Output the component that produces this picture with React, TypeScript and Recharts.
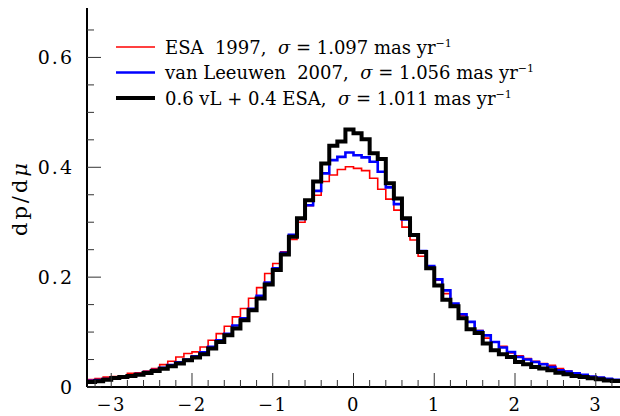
import { LineChart, Line, XAxis, YAxis, Label } from "recharts";

// proper-motion residual histograms, 0.1 mas/yr bins starting at -3.3
const BIN_START = -3.3;
const BIN_WIDTH = 0.1;

const esa1997 = [
  0.0134, 0.0153, 0.018, 0.019, 0.02, 0.025, 0.026, 0.029, 0.0336, 0.0408, 0.0468,
  0.0547, 0.061, 0.064, 0.0729, 0.0851, 0.0972, 0.1106, 0.1277, 0.143, 0.1616, 0.181,
  0.2066, 0.2248, 0.246, 0.2687, 0.3, 0.33, 0.349, 0.374, 0.386, 0.396, 0.401,
  0.398, 0.394, 0.38, 0.36, 0.342, 0.322, 0.291, 0.2675, 0.238, 0.22, 0.1945,
  0.17, 0.15, 0.13, 0.1185, 0.103, 0.089, 0.082, 0.074, 0.062, 0.057, 0.0517,
  0.047, 0.0426, 0.0395, 0.0335, 0.029, 0.026, 0.022, 0.019, 0.017, 0.015, 0.013,
];

const vanLeeuwen2007 = [
  0.0115, 0.0125, 0.0145, 0.017, 0.019, 0.021, 0.0235, 0.027, 0.031, 0.035, 0.04,
  0.045, 0.05, 0.056, 0.063, 0.073, 0.085, 0.097, 0.112, 0.125, 0.1425, 0.166,
  0.19, 0.216, 0.2445, 0.277, 0.306, 0.331, 0.357, 0.389, 0.413, 0.419, 0.427,
  0.422, 0.418, 0.41, 0.392, 0.3635, 0.333, 0.305, 0.278, 0.2474, 0.22, 0.196,
  0.176, 0.152, 0.1325, 0.1185, 0.102, 0.094, 0.082, 0.0718, 0.0638, 0.0547, 0.05,
  0.0456, 0.0414, 0.0365, 0.0304, 0.028, 0.025, 0.022, 0.019, 0.017, 0.015, 0.013,
];

const combined = [
  0.0091, 0.0103, 0.0134, 0.0164, 0.018, 0.02, 0.0225, 0.0255, 0.0292, 0.0334, 0.0377,
  0.0426, 0.0486, 0.0535, 0.0596, 0.0699, 0.082, 0.0942, 0.1064, 0.1216, 0.1398, 0.161,
  0.1867, 0.2128, 0.2414, 0.2735, 0.307, 0.34, 0.374, 0.407, 0.439, 0.447, 0.469,
  0.462, 0.451, 0.4255, 0.415, 0.371, 0.343, 0.307, 0.2766, 0.246, 0.216, 0.185,
  0.159, 0.147, 0.125, 0.105, 0.0985, 0.079, 0.0669, 0.0596, 0.0547, 0.0456, 0.0414,
  0.0365, 0.0335, 0.0304, 0.026, 0.023, 0.02, 0.018, 0.016, 0.014, 0.012, 0.011,
];

const xTicks = [
  -3.2, -3, -2.8, -2.6, -2.4, -2.2, -2, -1.8, -1.6, -1.4, -1.2, -1, -0.8, -0.6, -0.4, -0.2,
  0, 0.2, 0.4, 0.6, 0.8, 1, 1.2, 1.4, 1.6, 1.8, 2, 2.2, 2.4, 2.6, 2.8, 3, 3.2,
];
const yTicks = [0, 0.05, 0.1, 0.15, 0.2, 0.25, 0.3, 0.35, 0.4, 0.45, 0.5, 0.55, 0.6, 0.65];

const seriesNames = ["ESA  1997,", "van Leeuwen  2007,", "0.6 vL + 0.4 ESA,"];
const sigmas = ["1.097", "1.056", "1.011"];

const seriesStyle = [
  { key: "esa", color: "#ff0000", width: 1.6 },
  { key: "vl", color: "#0000ff", width: 2.6 },
  { key: "mix", color: "#000000", width: 4 },
];

// step lines need the closing edge, so the last bin value is repeated there
const rows = Array.from({ length: esa1997.length + 1 }, (_, i) => {
  const j = Math.min(i, esa1997.length - 1);
  return {
    x: Math.round((BIN_START + i * BIN_WIDTH) * 10) / 10,
    esa: esa1997[j],
    vl: vanLeeuwen2007[j],
    mix: combined[j],
  };
});

const FONT = "'DejaVu Serif', serif";
const TICK = "#333";

const isMultiple = (v: number, step: number) =>
  Math.abs(v / step - Math.round(v / step)) < 1e-6;
const fmt = (v: number) => (v < 0 ? "\u2212" + Math.abs(v) : String(v));

function BottomTick({ x, y, payload }: any) {
  const major = isMultiple(payload.value, 1);
  return (
    <g>
      <line x1={x} x2={x} y1={y} y2={y - (major ? 14 : 7)} stroke={TICK} />
      {major && (
        <text
          x={x}
          y={y + 24}
          textAnchor="middle"
          fontFamily={FONT}
          fontSize={18}
          letterSpacing={1.5}
          fill="#000"
        >
          {fmt(payload.value)}
        </text>
      )}
    </g>
  );
}

function TopTick({ x, y, payload }: any) {
  const major = isMultiple(payload.value, 1);
  return <line x1={x} x2={x} y1={y} y2={y + (major ? 14 : 7)} stroke={TICK} />;
}

function LeftTick({ x, y, payload }: any) {
  const major = isMultiple(payload.value, 0.2);
  return (
    <g>
      <line x1={x} x2={x + (major ? 14 : 7)} y1={y} y2={y} stroke={TICK} />
      {major && (
        <text
          x={x - 13}
          y={y + 7}
          textAnchor="end"
          fontFamily={FONT}
          fontSize={19}
          letterSpacing={2}
          fill="#000"
        >
          {payload.value === 0 ? "0" : payload.value.toFixed(1)}
        </text>
      )}
    </g>
  );
}

function RightTick({ x, y, payload }: any) {
  const major = isMultiple(payload.value, 0.2);
  return <line x1={x} x2={x - (major ? 14 : 7)} y1={y} y2={y} stroke={TICK} />;
}

function YTitle() {
  const cx = 27;
  const cy = 198;
  return (
    <text
      x={cx}
      y={cy}
      transform={`rotate(-90 ${cx} ${cy})`}
      textAnchor="middle"
      fontFamily={FONT}
      fontSize={21}
      letterSpacing={3}
      fill="#000"
    >
      dp/d<tspan fontStyle="italic">μ</tspan>
    </text>
  );
}

function LegendBox() {
  return (
    <svg
      width={620}
      height={120}
      style={{ position: "absolute", left: 0, top: 0, pointerEvents: "none" }}
    >
      {seriesNames.map((name, i) => {
        const y = 47 + i * 25.5;
        const s = seriesStyle[i];
        return (
          <g key={name}>
            <line x1={116} x2={155} y1={y} y2={y} stroke={s.color} strokeWidth={s.width} />
            <text
              x={165}
              y={y + 6.5}
              fontFamily={FONT}
              fontSize={18}
              fill="#000"
              style={{ whiteSpace: "pre" }}
            >
              {name + "  "}
              <tspan fontStyle="italic">σ</tspan>
              {" = " + sigmas[i] + " mas yr"}
              <tspan dy={-7} fontSize={11}>
                −1
              </tspan>
            </text>
          </g>
        );
      })}
    </svg>
  );
}

export default function App() {
  return (
    <div style={{ position: "absolute", left: 0, top: 0, width: 620, height: 416, background: "#fff" }}>
      <LineChart width={620} height={416} data={rows} margin={{ top: 8, right: 0, left: 0, bottom: 0 }}>
        <XAxis
          dataKey="x"
          type="number"
          domain={[-3.3, 3.3]}
          ticks={xTicks}
          interval={0}
          height={29}
          tickSize={0}
          tickMargin={0}
          tick={BottomTick}
          axisLine={{ stroke: "#000", strokeWidth: 2 }}
          tickLine={false}
          allowDataOverflow
        />
        <XAxis
          xAxisId="top"
          orientation="top"
          dataKey="x"
          type="number"
          domain={[-3.3, 3.3]}
          ticks={xTicks}
          interval={0}
          height={0}
          tickSize={0}
          tickMargin={0}
          tick={TopTick}
          axisLine={{ stroke: "#000", strokeWidth: 2 }}
          tickLine={false}
          allowDataOverflow
        />
        <YAxis
          type="number"
          domain={[0, 0.69]}
          ticks={yTicks}
          interval={0}
          width={87}
          tickSize={0}
          tickMargin={0}
          tick={LeftTick}
          axisLine={{ stroke: "#000", strokeWidth: 2 }}
          tickLine={false}
          allowDataOverflow
        >
          <Label content={<YTitle />} />
        </YAxis>
        <YAxis
          yAxisId="right"
          orientation="right"
          type="number"
          domain={[0, 0.69]}
          ticks={yTicks}
          interval={0}
          width={0}
          tickSize={0}
          tickMargin={0}
          tick={RightTick}
          axisLine={{ stroke: "#000", strokeWidth: 2 }}
          tickLine={false}
          allowDataOverflow
        />
        {/* keeps the mirrored frame axes bound to data */}
        <Line
          xAxisId="top"
          yAxisId="right"
          dataKey="mix"
          stroke="none"
          dot={false}
          activeDot={false}
          isAnimationActive={false}
        />
        {seriesStyle.map((s) => (
          <Line
            key={s.key}
            type="stepAfter"
            dataKey={s.key}
            stroke={s.color}
            strokeWidth={s.width}
            strokeLinejoin="miter"
            dot={false}
            activeDot={false}
            isAnimationActive={false}
          />
        ))}
      </LineChart>
      <LegendBox />
    </div>
  );
}
